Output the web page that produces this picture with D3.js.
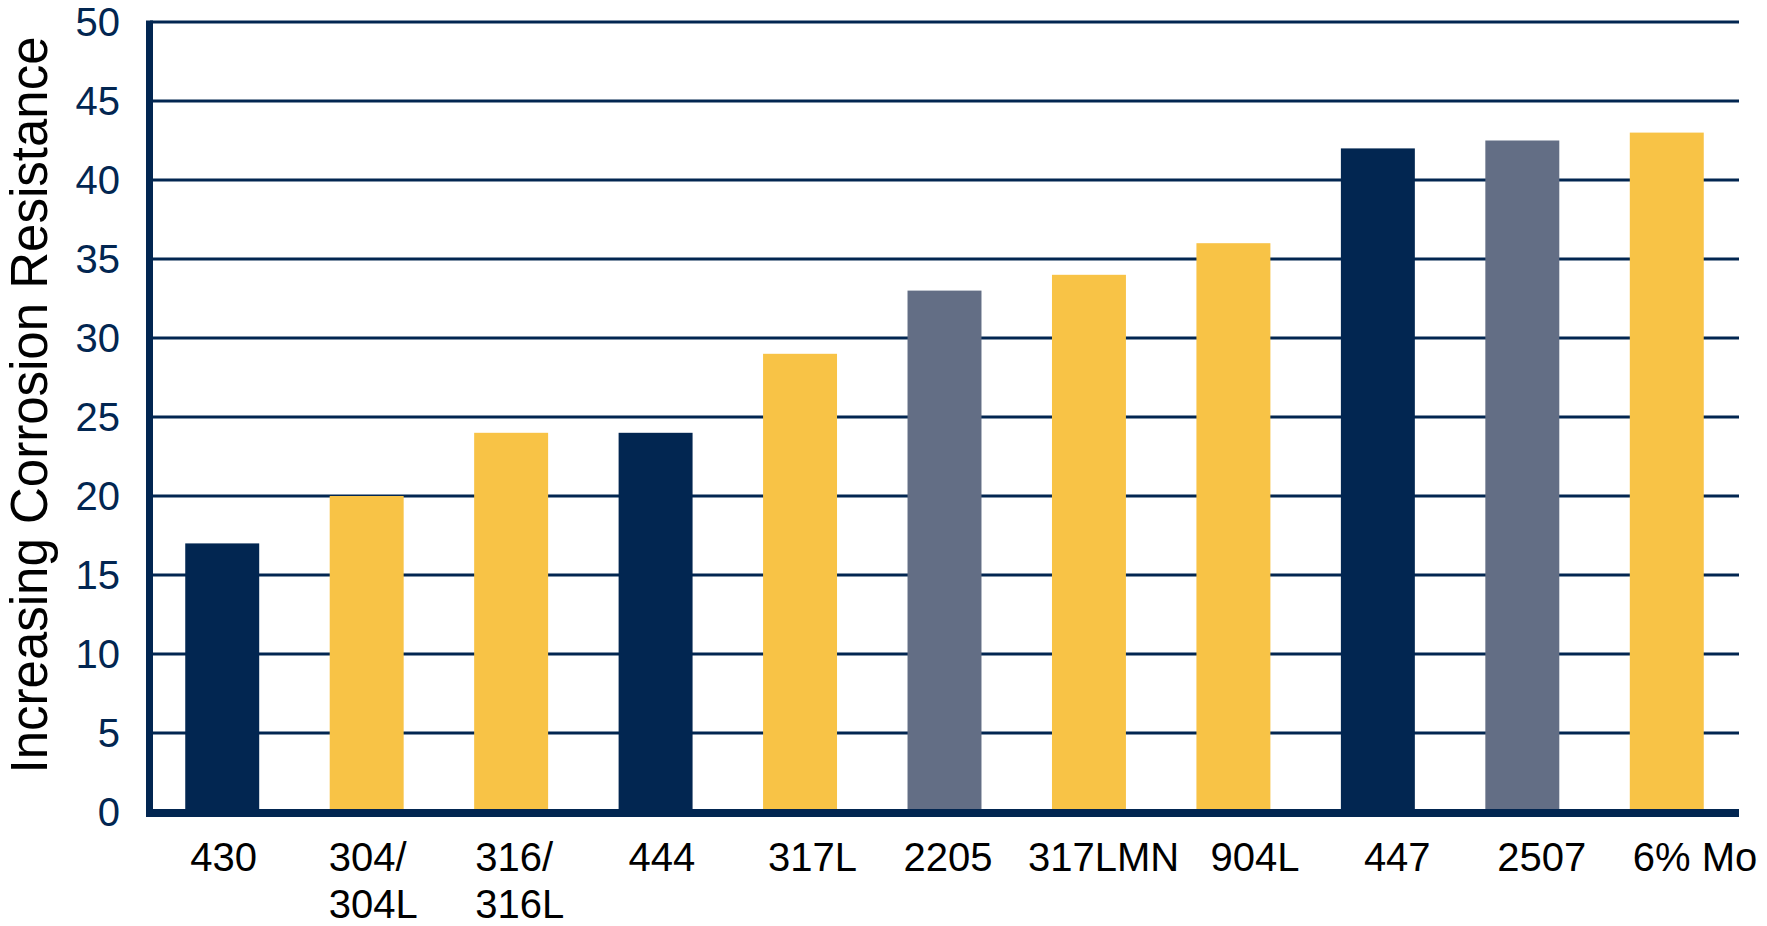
<!DOCTYPE html>
<html>
<head>
<meta charset="utf-8">
<script src="https://cdn.jsdelivr.net/npm/d3@7"></script>
<style>
  body { margin: 0; background: #fff; }
  text { font-family: "Liberation Sans", Arial, sans-serif; }
</style>
</head>
<body>
<div id="chart"></div>
<script>
// grades, values and family (ferritic / austenitic / duplex)
const grades = ["430", "304/\n304L", "316/\n316L", "444", "317L", "2205", "317LMN", "904L", "447", "2507", "6% Mo"];
const resistance = [17, 20, 24, 24, 29, 33, 34, 36, 42, 42.5, 43];
const family = ["ferritic", "austenitic", "austenitic", "ferritic", "austenitic", "duplex", "austenitic", "austenitic", "ferritic", "duplex", "austenitic"];
const yTicks = [0, 5, 10, 15, 20, 25, 30, 35, 40, 45, 50];
// label boxes were placed by hand in the original, nudge from bar left edge
const labelNudge = [5, -1, 1, 10, 5, -4, -24, 14, 23, 12, 3];

const svg_width = 1767;
const svg_height = 926;
const navy = "#022651";

const colors = { ferritic: navy, austenitic: "#f8c346", duplex: "#636e85" };

let svg = d3.select("#chart")
  .append("svg")
    .attr("width", svg_width)
    .attr("height", svg_height)

const x = d3.scaleBand()
    .domain(grades)
    .range([150, 1739])
    .paddingInner(0.488)
    .paddingOuter(0.244)

const y = d3.scaleLinear()
    .domain([0, 50])
    .range([812, 22])

// gridlines
svg.append("g")
  .selectAll("line")
  .data(yTicks.filter(d => d > 0))
  .join("line")
    .attr("x1", 150)
    .attr("x2", 1739)
    .attr("y1", d => y(d))
    .attr("y2", d => y(d))
    .attr("stroke", navy)
    .attr("stroke-width", 3)

// bars
svg.append("g")
  .selectAll("rect")
  .data(grades)
  .join("rect")
    .attr("x", d => x(d))
    .attr("y", (d, i) => y(resistance[i]))
    .attr("width", x.bandwidth())
    .attr("height", (d, i) => y(0) - y(resistance[i]))
    .attr("fill", (d, i) => colors[family[i]])

// axes lines
svg.append("line")
    .attr("x1", 149.5).attr("x2", 149.5)
    .attr("y1", y(50) - 1.5).attr("y2", 817)
    .attr("stroke", navy).attr("stroke-width", 7)

svg.append("line")
    .attr("x1", 146).attr("x2", 1739)
    .attr("y1", 813).attr("y2", 813)
    .attr("stroke", navy).attr("stroke-width", 8)

// y tick labels
svg.append("g")
  .selectAll("text")
  .data(yTicks)
  .join("text")
    .attr("x", 120)
    .attr("y", d => y(d))
    .attr("dy", "0.35em")
    .attr("text-anchor", "end")
    .attr("font-size", 40)
    .attr("fill", navy)
    .text(d => d)

// x labels (may have two lines)
let xl = svg.append("g")
  .selectAll("text")
  .data(grades)
  .join("text")
    .attr("x", (d, i) => x(d) + labelNudge[i])
    .attr("y", 871)
    .attr("font-size", 40)
    .attr("fill", "#000")

xl.each(function(d, i) {
    let lines = d.split("\n");
    let t = d3.select(this);
    lines.forEach((ln, j) => {
        t.append("tspan")
          .attr("x", x(d) + labelNudge[i])
          .attr("dy", j === 0 ? 0 : 47)
          .text(ln);
    });
});

// y title
svg.append("text")
    .attr("transform", "translate(47,405) rotate(-90)")
    .attr("text-anchor", "middle")
    .attr("font-size", 51)
    .attr("fill", "#000")
    .text("Increasing Corrosion Resistance")
</script>
</body>
</html>
